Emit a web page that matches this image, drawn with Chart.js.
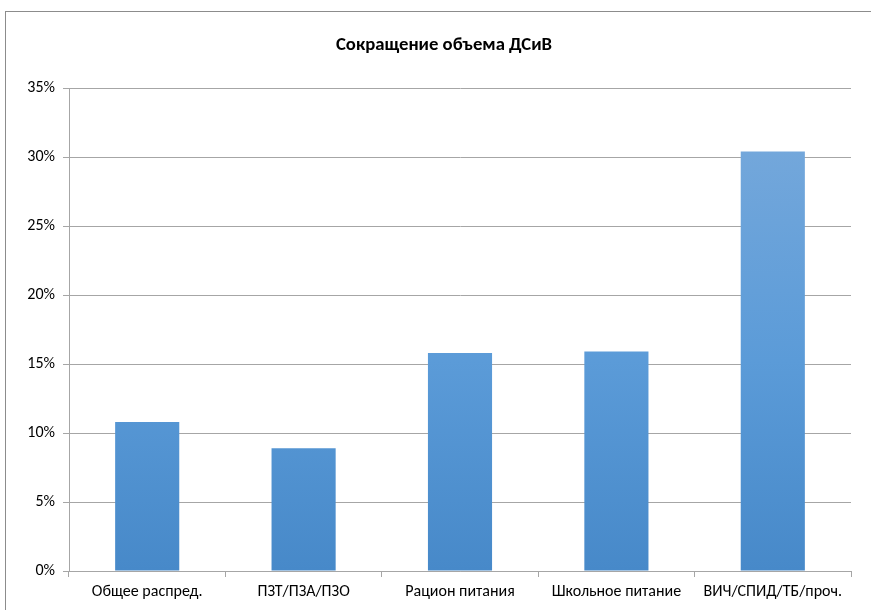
<!DOCTYPE html>
<html>
<head>
<meta charset="utf-8">
<script src="https://cdn.jsdelivr.net/npm/chart.js@4.4.0/dist/chart.umd.min.js"></script>
<style>
  html, body { margin: 0; padding: 0; background: #fff; overflow: hidden; }
  #wrap { position: relative; width: 871px; height: 610px; overflow: hidden; }
  #frame { position: absolute; left: 5px; top: 11px; width: 900px; height: 700px;
           border: 1px solid #8c8c8c; pointer-events: none; }
</style>
</head>
<body>
<div id="wrap">
  <canvas id="cutChart" width="888" height="610"></canvas>
  <div id="frame"></div>
</div>
<script>
// Data
const categories = ['Общее распред.', 'ПЗТ/ПЗА/ПЗО', 'Рацион питания', 'Школьное питание', 'ВИЧ/СПИД/ТБ/проч.'];
const cutValues = [10.8, 8.9, 15.8, 15.9, 30.4];
const yTicks = [0, 5, 10, 15, 20, 25, 30, 35];

const fontFamily = 'Carlito, "Liberation Sans Narrow", "Open Sans", sans-serif';

// Excel-like gradient on each bar, top lighter, bottom darker
const barGradient = {
  id: 'barGradient',
  beforeDatasetsDraw(chart) {
    const ctx = chart.ctx;
    chart.getDatasetMeta(0).data.forEach(bar => {
      const g = ctx.createLinearGradient(0, bar.y, 0, bar.base);
      g.addColorStop(0, '#73a7db');
      g.addColorStop(0.5, '#5b9bd8');
      g.addColorStop(1, '#4789c9');
      bar.options.backgroundColor = g;
    });
  }
};

const ctx = document.getElementById('cutChart').getContext('2d');
const cutChart = new Chart(ctx, {
  type: 'bar',
  data: {
    labels: categories,
    datasets: [{
      label: 'Сокращение объема ДСиВ',
      data: cutValues,
      backgroundColor: '#5b9bd5',
      borderWidth: 0,
      categoryPercentage: 1,
      barPercentage: 0.41
    }]
  },
  options: {
    responsive: false,
    animation: false,
    layout: { padding: 0 },
    plugins: {
      legend: { display: false },
      tooltip: { enabled: false },
      title: {
        display: true,
        text: 'Сокращение объема ДСиВ',
        color: '#000',
        font: { family: fontFamily, size: 18.7, weight: 'bold', lineHeight: 1.2 },
        padding: { top: 34, bottom: 31.6 }
      }
    },
    scales: {
      x: {
        grid: { display: true, drawOnChartArea: false, drawTicks: true, tickLength: 6, color: '#a6a6a6', offset: true },
        border: { color: '#a6a6a6' },
        ticks: { color: '#000', font: { family: fontFamily, size: 16 }, padding: 5, maxRotation: 0, autoSkip: false },
        afterFit(scale) { scale.height = 39; }
      },
      y: {
        min: 0,
        max: 35,
        afterBuildTicks(scale) { scale.ticks = yTicks.map(v => ({ value: v })); },
        grid: { color: '#a6a6a6', tickLength: 6 },
        border: { color: '#a6a6a6' },
        ticks: { color: '#000', font: { family: fontFamily, size: 16 }, padding: 8,
                 callback: v => v + '%' },
        afterFit(scale) { scale.width = 69; }
      },
      // empty right-hand spacer so the title sits centred on the frame
      spacer: {
        position: 'right',
        display: true,
        grid: { display: false },
        border: { display: false },
        ticks: { display: false },
        afterFit(scale) { scale.width = 37; }
      }
    }
  },
  plugins: [barGradient]
});
</script>
</body>
</html>
